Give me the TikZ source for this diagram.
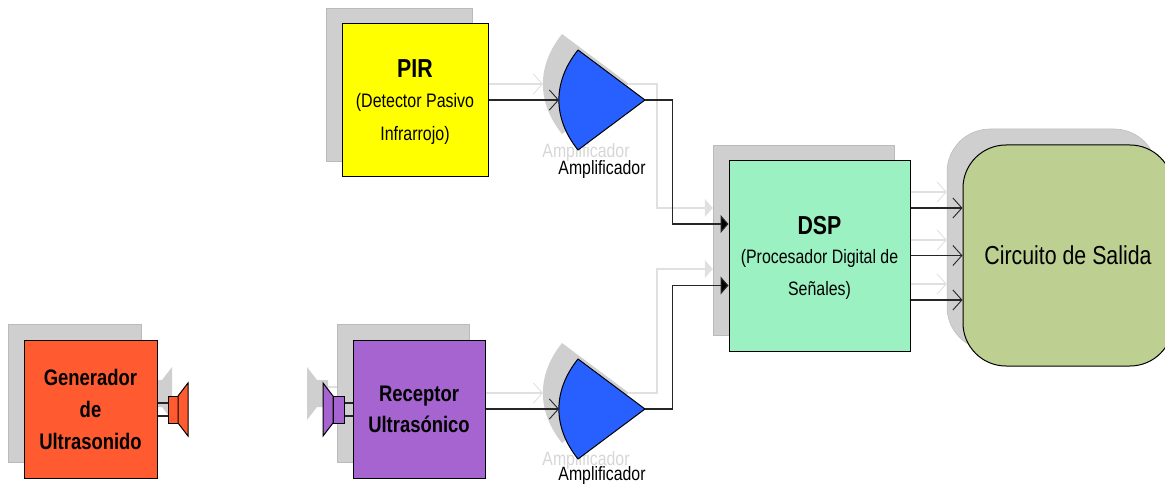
\documentclass[tikz,border=0pt]{standalone}
\usepackage{fontspec}
\setmainfont[FakeStretch=0.82]{Liberation Sans}
\usetikzlibrary{arrows.meta,calc}
\definecolor{shadowc}{HTML}{CFCFCF}
\definecolor{shadowl}{HTML}{E0E0E0}
\definecolor{labelc}{HTML}{D6D6D6}
\definecolor{ampblue}{RGB}{40,96,255}
\definecolor{orangec}{RGB}{255,90,48}
\definecolor{purplec}{RGB}{165,100,208}
\definecolor{dspc}{RGB}{155,241,194}
\definecolor{outc}{RGB}{189,208,146}
\definecolor{pirc}{RGB}{255,255,0}
\newcommand{\titleup}[1]{\raisebox{-3pt}[19pt][0pt]{#1}}
\tikzset{
  x=1pt,y=-1pt,
  boxbase/.style={draw=black,line width=1pt,inner sep=0pt,align=center,text=black},
  shadowbox/.style={fill=shadowc,draw=shadowc!90!black,line width=.5pt,inner sep=0pt},
  wire/.style={draw=black!85,line width=1.1pt},
  swire/.style={draw=shadowl,line width=1.1pt},
  openhead/.style={-{Straight Barb[length=9pt,width=20pt,line width=.9pt]}},
  fillhead/.style={-{Triangle[length=8pt,width=18pt,fill=black]}},
  sfillhead/.style={-{Triangle[length=8pt,width=18pt,fill=shadowl]}},
  amp/.style={fill=ampblue,draw=black,line width=1pt,line join=round},
  samp/.style={fill=shadowc,draw=none},
  amplabel/.style={font=\fontsize{19.3}{22}\selectfont,inner sep=0pt,text=black},
  slabel/.style={font=\fontsize{19.3}{22}\selectfont,inner sep=0pt,text=labelc},
  spk/.style={fill=#1,draw=black,line width=1pt,line join=miter},
  sspk/.style={fill=shadowc,draw=none},
}
\newcommand{\ampshape}[2]{% x y of the tip
  (#1-67,#2-50) .. controls (#1-92.5,#2-18) and (#1-92.5,#2+18) .. (#1-67,#2+50) -- (#1,#2) -- cycle}
\begin{document}
\begin{tikzpicture}
\useasboundingbox (0,0) rectangle (1165,484);
\begin{scope}
\clip (0,0) rectangle (1165,484);
% shadow boxes
\node[shadowbox,minimum width=146pt,minimum height=153pt] (pirS) at (399,84.5) {};
\node[shadowbox,minimum width=181pt,minimum height=190pt] (dspS) at (803.5,240) {};
\node[shadowbox,minimum width=133pt,minimum height=138pt] (genS) at (74.5,393) {};
\node[shadowbox,minimum width=132pt,minimum height=138pt] (recS) at (403,393) {};
\node[shadowbox,rounded corners=43pt,minimum width=210pt,minimum height=221pt] (outS) at (1052,239.5) {};
% shadow amplifiers
\fill[samp] \ampshape{629}{84};
\fill[samp] \ampshape{629}{393};
\coordinate (amp1Sin) at (543,84);
\coordinate (amp1Sout) at (629,84);
\coordinate (amp2Sin) at (543,393);
\coordinate (amp2Sout) at (629,393);
\node[slabel] (lab1S) at (586,153) {Amplificador};
\node[slabel] (lab2S) at (586,461) {Amplificador};
% shadow speakers
\coordinate (spkPSa) at (328,387);
\coordinate (spkPSb) at (328,400);
\path[swire] (spkPSa) -- (recS.west |- spkPSa);
\path[swire] (spkPSb) -- (recS.west |- spkPSb);
\fill[sspk] (152,380) -- (162,380) -- (172,367) -- (172,420) -- (162,407) -- (152,407) -- cycle;
\fill[sspk] (307,367) -- (317,380) -- (328,380) -- (328,407) -- (317,407) -- (307,420) -- cycle;
% shadow connectors
\path[swire,openhead] (pirS.east |- amp1Sin) -- (amp1Sin);
\path[swire,openhead] (recS.east |- amp2Sin) -- (amp2Sin);
\path[swire,sfillhead] (amp1Sout) -| (657,208) -- (dspS.west |- 0,208);
\path[swire,sfillhead] (amp2Sout) -| (657,269) -- (dspS.west |- 0,269);
\path[swire,openhead] (dspS.east |- 0,192) -- (outS.west |- 0,192);
\path[swire,openhead] (dspS.east |- 0,240) -- (outS.west |- 0,240);
\path[swire,openhead] (dspS.east |- 0,284) -- (outS.west |- 0,284);
% speakers
\coordinate (spkO) at (168,403);
\coordinate (spkOb) at (168,416);
\coordinate (spkP) at (344,403);
\coordinate (spkPb) at (344,416);
% main boxes
\node[boxbase,fill=pirc,minimum width=146pt,minimum height=153pt,
      font=\fontsize{19.5}{33}\selectfont] (pir) at (415,100.5)
      {\titleup{\fontsize{26}{33}\selectfont\bfseries PIR}\\(Detector Pasivo\\Infrarrojo)};
\node[boxbase,fill=dspc,minimum width=181pt,minimum height=190pt,
      font=\fontsize{19.4}{32}\selectfont] (dsp) at (819.5,256)
      {\titleup{\fontsize{26}{32}\selectfont\bfseries DSP}\\(Procesador Digital de\\Señales)};
\node[boxbase,fill=orangec,minimum width=133pt,minimum height=138pt,
      font=\fontsize{22.5}{32}\selectfont\bfseries] (gen) at (90.5,409)
      {Generador\\de\\Ultrasonido};
\node[boxbase,fill=purplec,minimum width=132pt,minimum height=138pt,
      font=\fontsize{22.5}{31}\selectfont\bfseries] (rec) at (419,409)
      {Receptor\\Ultrasónico};
\node[boxbase,fill=outc,rounded corners=43pt,minimum width=210pt,minimum height=221pt,
      font=\fontsize{26}{30}\selectfont] (out) at (1068,255.5) {Circuito de Salida};
% amplifiers
\coordinate (amp1in) at (559,100);
\coordinate (amp1out) at (645,100);
\coordinate (amp2in) at (559,409);
\coordinate (amp2out) at (645,409);
\path[amp] \ampshape{645}{100};
\path[amp] \ampshape{645}{409};
\node[amplabel] (lab1) at (602,170) {Amplificador};
\node[amplabel] (lab2) at (602,476) {Amplificador};
% connectors
\path[wire,openhead] (pir.east |- amp1in) -- (amp1in);
\path[wire,openhead] (rec.east |- amp2in) -- (amp2in);
\path[wire,fillhead] (amp1out) -| (672.5,224) -- (dsp.west |- 0,224);
\path[wire,fillhead] (amp2out) -| (672.5,285.5) -- (dsp.west |- 0,285.5);
\path[wire,openhead] (dsp.east |- 0,208) -- (out.west |- 0,208);
\path[wire,openhead] (dsp.east |- 0,255.5) -- (out.west |- 0,255.5);
\path[wire,openhead] (dsp.east |- 0,300) -- (out.west |- 0,300);
% speakers drawn
\path[wire] (gen.east |- spkO) -- (spkO);
\path[wire] (gen.east |- spkOb) -- (spkOb);
\path[wire] (rec.west |- spkP) -- (spkP);
\path[wire] (rec.west |- spkPb) -- (spkPb);
\path[spk=orangec] (168,396) rectangle (178,423);
\path[spk=orangec] (178,396) -- (188,383) -- (188,436) -- (178,423) -- cycle;
\path[spk=purplec] (333,396) rectangle (344,423);
\path[spk=purplec] (333,396) -- (323,383) -- (323,436) -- (333,423) -- cycle;
\end{scope}
\end{tikzpicture}
\end{document}
